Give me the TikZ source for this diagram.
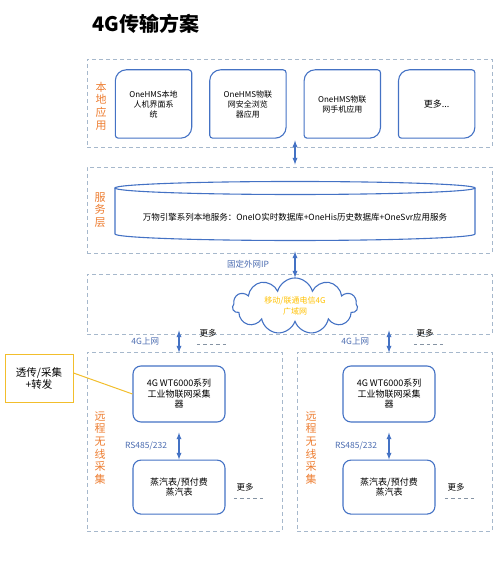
\documentclass[tikz,border=0pt]{standalone}
\usepackage{fontspec}
\setmainfont{Noto Sans CJK SC}
\usetikzlibrary{positioning,shapes.symbols}

\definecolor{boxblue}{HTML}{4472C4}
\definecolor{zonegray}{HTML}{A6B8CC}
\definecolor{labelorange}{HTML}{ED7D31}
\definecolor{linkblue}{HTML}{4A6BB0}
\definecolor{noteyellow}{HTML}{F2BE2C}
\definecolor{cloudtext}{HTML}{FFC000}

\begin{document}
\begin{tikzpicture}[x=1pt, y=1pt, >=latex,
  every node/.style={font=\fontsize{8.5}{10.5}\selectfont},
  zone/.style={draw=zonegray, dash pattern=on 4pt off 3pt, line width=0.8pt, minimum width=405pt},
  boxline/.style={draw=boxblue, line width=1.1pt},
  app/.style={minimum width=76pt, minimum height=68pt, align=center, font=\fontsize{8}{10}\selectfont},
  device/.style={boxline, rounded corners=8pt, minimum width=92pt, minimum height=56pt, align=center, font=\fontsize{9}{10.5}\selectfont},
  sidelabel/.style={text=labelorange, align=center, font=\fontsize{11}{12.6}\selectfont},
  flow/.style={<->, draw=boxblue, line width=1.3pt},
  linklabel/.style={text=linkblue},
  moreline/.style={draw=zonegray!80!black, dash pattern=on 3.5pt off 3pt, line width=0.8pt}]
  \useasboundingbox (0,0) rectangle (501,577);

  \node[font=\fontsize{20}{24}\selectfont\bfseries] (title) at (146,553) {4G传输方案};

  % layers
  \node[zone, minimum height=88pt] (local) at (289.5,474) {};
  \node[zone, minimum height=86pt] (service) at (289.5,367) {};
  \node[zone, minimum height=60pt] (wan) at (289.5,273) {};
  \node[zone, minimum width=195pt, minimum height=179pt] (siteA) at (184.5,135.5) {};
  \node[zone, minimum width=195pt, minimum height=179pt] (siteB) at (394.5,135.5) {};

  \node[sidelabel] (lblLocal) at (101,471) {本\\地\\应\\用};
  \node[sidelabel] (lblService) at (100,367) {服\\务\\层};
  \node[sidelabel] (lblSiteA) at (100,129) {远\\程\\无\\线\\采\\集};
  \node[sidelabel] (lblSiteB) at (311,129) {远\\程\\无\\线\\采\\集};

  % local applications
  \node[app] (app1) at (153.5,473) {OneHMS本地\\人机界面系\\统};
  \node[app, right=18pt of app1] (app2) {OneHMS物联\\网安全浏览\\器应用};
  \node[app, right=18pt of app2] (app3) {OneHMS物联\\网手机应用};
  \node[app, right=18pt of app3, font=\fontsize{9}{10.5}\selectfont] (app4) {更多...};
  \foreach \a in {app1,app2,app3,app4}
    \draw[boxline] ([yshift=-11pt]\a.north west) arc[start angle=180, end angle=90, radius=11pt]
      -- ([xshift=-3pt]\a.north east) arc[start angle=90, end angle=0, radius=3pt]
      -- ([yshift=11pt]\a.south east) arc[start angle=0, end angle=-90, radius=11pt]
      -- ([xshift=3pt]\a.south west) arc[start angle=270, end angle=180, radius=3pt] -- cycle;

  % service cylinder
  \draw[boxline] (115,389) -- (115,343) arc[start angle=180, end angle=360, x radius=180pt, y radius=6.5pt] -- (475,389);
  \draw[boxline] (295,389) ellipse[x radius=180pt, y radius=6.5pt];
  \node (svc) at (295,360) {万物引擎系列本地服务：OneIO实时数据库+OneHis历史数据库+OneSvr应用服务};

  % network
  \node[cloud, cloud puffs=11, aspect=2.6, boxline, minimum width=125pt, minimum height=48pt,
    text=cloudtext, align=center, font=\fontsize{8}{10.5}\selectfont] (cloud) at (295,271) {移动/联通电信4G\\广域网};

  % remote sites
  \node[device] (col1) at (179,183) {4G WT6000系列\\工业物联网采集\\器};
  \node[device] (col2) at (389,183) {4G WT6000系列\\工业物联网采集\\器};
  \node[device, minimum height=54pt, below=37pt of col1] (met1) {蒸汽表/预付费\\蒸汽表};
  \node[device, minimum height=54pt, below=37pt of col2] (met2) {蒸汽表/预付费\\蒸汽表};

  \node (moreA) at (208,244) {更多};
  \node (moreB) at (425,244) {更多};
  \node (moreC) at (245,90) {更多};
  \node (moreD) at (456,90) {更多};
  \foreach \m in {moreA,moreB,moreC,moreD}
    \draw[moreline] ([shift={(1pt,-3.5pt)}]\m.south west) -- ([shift={(7pt,-3.5pt)}]\m.south east);

  \node[draw=noteyellow, line width=1pt, minimum width=68pt, minimum height=48pt, align=center,
    font=\fontsize{10.5}{12}\selectfont] (relay) at (39,198) {透传/采集\\+转发};
  \draw[noteyellow, line width=1pt] ([yshift=6pt]relay.east) -- (col1.west);

  % links
  \draw[flow] ([yshift=7pt]local.south -| svc) -- ([yshift=2pt]service.north -| svc);
  \draw[flow] ([yshift=2pt]service.south -| svc) -- ([yshift=-4pt]wan.north -| svc)
    node[midway, left=22pt, linklabel] {固定外网IP};
  \draw[flow] ([yshift=4pt]wan.south -| col1) -- ([yshift=-1pt]siteA.north -| col1)
    node[midway, left=16pt, linklabel] {4G上网};
  \draw[flow] ([yshift=4pt]wan.south -| col2) -- ([yshift=-1pt]siteB.north -| col2)
    node[midway, left=16pt, linklabel] {4G上网};
  \draw[flow, shorten <=10pt] (col1) -- (met1) node[pos=0.62, left=8pt, linklabel] {RS485/232};
  \draw[flow, shorten <=10pt] (col2) -- (met2) node[pos=0.62, left=8pt, linklabel] {RS485/232};
\end{tikzpicture}
\end{document}
